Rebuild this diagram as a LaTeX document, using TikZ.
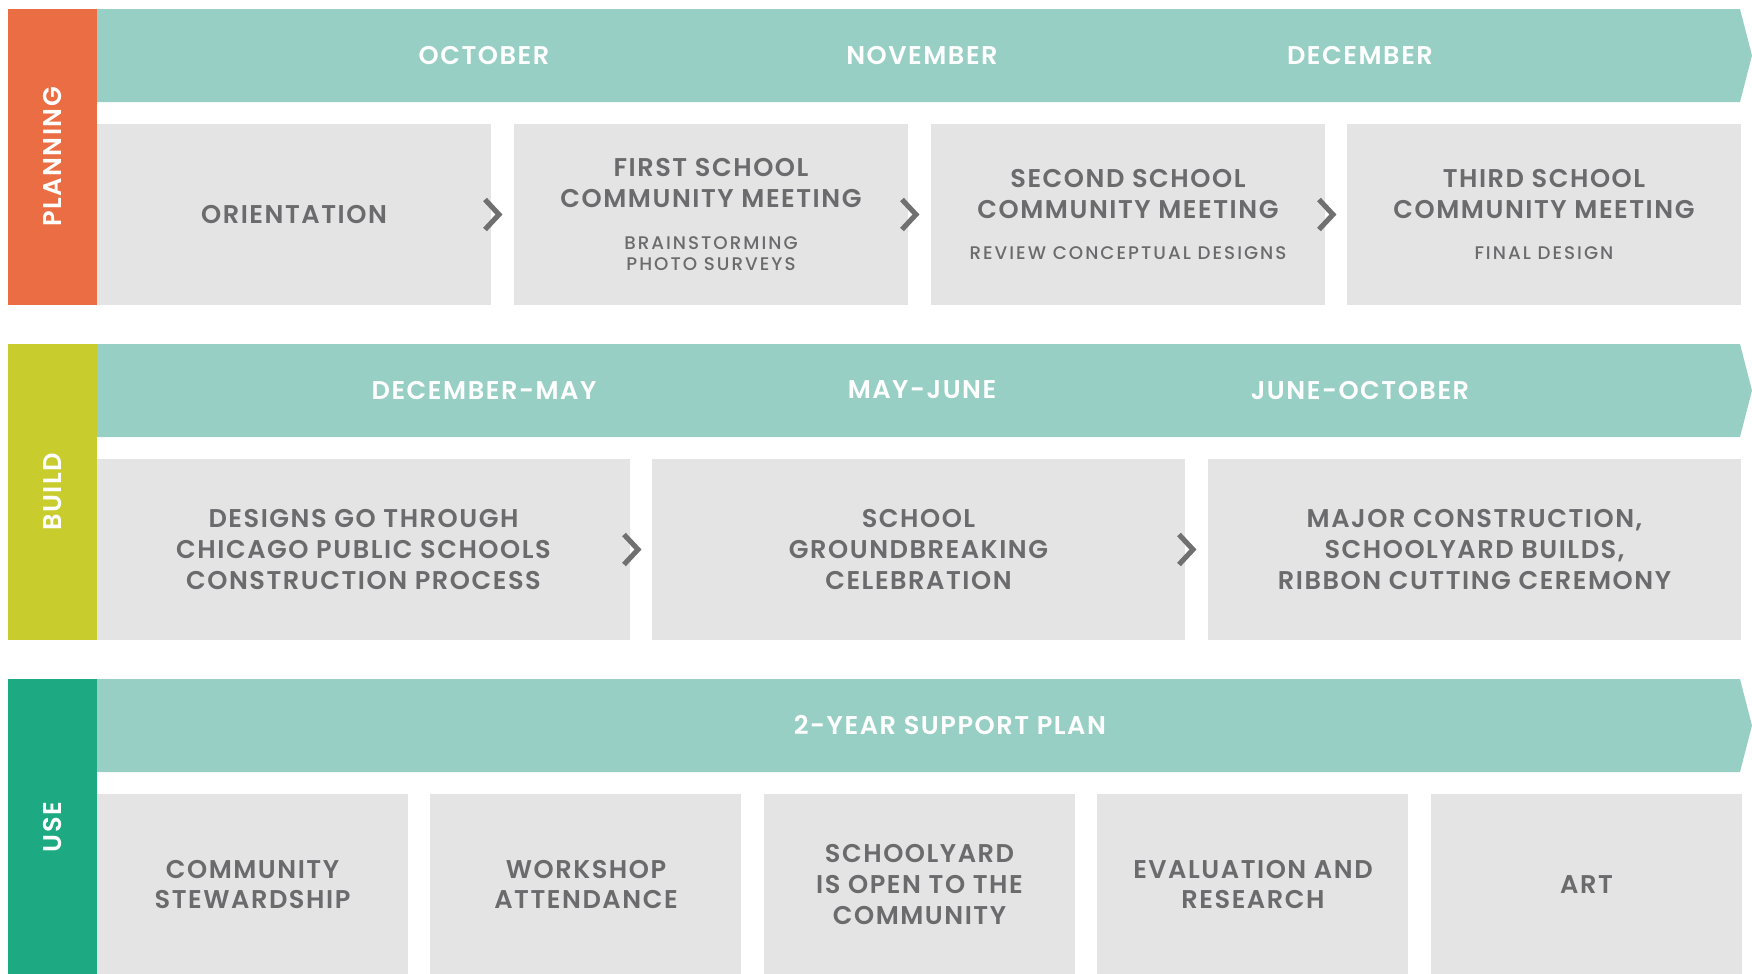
\documentclass[tikz,border=0pt]{standalone}
\usepackage{fontspec}
\setmainfont{Poppins}
\IfFontExistsTF{Poppins SemiBold}{\def\stageface{Poppins SemiBold}}{\def\stageface{Poppins Bold}}
\IfFontExistsTF{Poppins Medium}{\def\subface{Poppins Medium}}{\def\subface{Poppins}}
\newfontfamily\stagefam{\stageface}[LetterSpace=6]
\newfontfamily\subfam{\subface}[LetterSpace=11]
\usetikzlibrary{positioning}
\definecolor{cband}{HTML}{98CFC4}
\definecolor{cbox}{HTML}{E4E4E4}
\definecolor{ctext}{HTML}{6B6B6D}
\definecolor{cchev}{HTML}{707070}
\definecolor{cplan}{HTML}{EB6D43}
\definecolor{cbuild}{HTML}{C9CC2D}
\definecolor{cuse}{HTML}{1DA982}
\newcommand{\stagefont}{\stagefam\fontsize{7.3}{8.8}\selectfont}
\newcommand{\subfont}{\subfam\fontsize{5.2}{6.2}\selectfont}
\tikzset{
  every picture/.style={x=0.1mm, y=-0.1mm},
  lane/.style={fill=#1, text=white, font=\stagefont, rotate=90, inner sep=0pt, outer sep=0pt, minimum width=29.6mm, minimum height=8.9mm},
  band/.style={fill=cband},
  month/.style={text=white, font=\stagefont},
  stage/.style={fill=cbox, text=ctext, font=\stagefont, align=center, inner sep=0pt, outer sep=0pt, minimum height=18.1mm},
  chev/.style={draw=cchev, line width=1.45pt, line join=miter},
}

\begin{document}
\begin{tikzpicture}
  \useasboundingbox (0,0) rectangle (1752,974);
  % phase bars on the left
  \node[lane=cplan] (plan) at (52.5,157) {PLANNING};
  \node[lane=cbuild] (build) at (52.5,492) {BUILD};
  \node[lane=cuse] (use) at (52.5,827) {USE};
  % timeline bands with pointed ends
  \foreach \y in {0,335,670} \fill[band] (97,9+\y) -- (1740,9+\y) -- (1752,55.5+\y) -- (1740,102+\y) -- (97,102+\y) -- cycle;
  \node[month] (oct) at (484,55) {OCTOBER};
  \node[month] (nov) at (922,55) {NOVEMBER};
  \node[month] (dec) at (1360,55) {DECEMBER};
  \node[month] (decmay) at (484,390) {DECEMBER-MAY};
  \node[month] (mayjun) at (922,390) {MAY-JUNE};
  \node[month] (junoct) at (1360,390) {JUNE-OCTOBER};
  \node[month] (support) at (950,725) {2-YEAR SUPPORT PLAN};
  % planning steps
  \node[stage, minimum width=39.4mm, anchor=north west] (p1) at (97,124) {ORIENTATION};
  \node[stage, minimum width=39.4mm, right=2.3mm of p1] (p2) {FIRST SCHOOL\\COMMUNITY MEETING\\[3.1pt]{\subfont BRAINSTORMING}\\[-2.6pt]{\subfont PHOTO SURVEYS}};
  \node[stage, minimum width=39.4mm, right=2.3mm of p2] (p3) {SECOND SCHOOL\\COMMUNITY MEETING\\[3.1pt]{\subfont REVIEW CONCEPTUAL DESIGNS}};
  \node[stage, minimum width=39.4mm, right=2.2mm of p3] (p4) {THIRD SCHOOL\\COMMUNITY MEETING\\[3.1pt]{\subfont FINAL DESIGN}};
  % build steps
  \node[stage, minimum width=53.3mm, anchor=north west] (b1) at (97,459) {DESIGNS GO THROUGH\\CHICAGO PUBLIC SCHOOLS\\CONSTRUCTION PROCESS};
  \node[stage, minimum width=53.3mm, right=2.2mm of b1] (b2) {SCHOOL\\GROUNDBREAKING\\CELEBRATION};
  \node[stage, minimum width=53.3mm, right=2.3mm of b2] (b3) {MAJOR CONSTRUCTION,\\SCHOOLYARD BUILDS,\\RIBBON CUTTING CEREMONY};
  % use steps
  \node[stage, minimum width=31.1mm, anchor=north west] (u1) at (97,794) {COMMUNITY\\STEWARDSHIP};
  \node[stage, minimum width=31.1mm, right=2.25mm of u1] (u2) {WORKSHOP\\ATTENDANCE};
  \node[stage, minimum width=31.1mm, right=2.25mm of u2] (u3) {SCHOOLYARD\\IS OPEN TO THE\\COMMUNITY};
  \node[stage, minimum width=31.1mm, right=2.25mm of u3] (u4) {EVALUATION AND\\RESEARCH};
  \node[stage, minimum width=31.1mm, right=2.25mm of u4] (u5) {ART};
  % chevrons between steps
  \foreach \s in {p1,p2,p3,b1,b2}
    \draw[chev] (\s.east) ++(-6,-15) -- ++(14,15) -- ++(-14,15);
\end{tikzpicture}
\end{document}
